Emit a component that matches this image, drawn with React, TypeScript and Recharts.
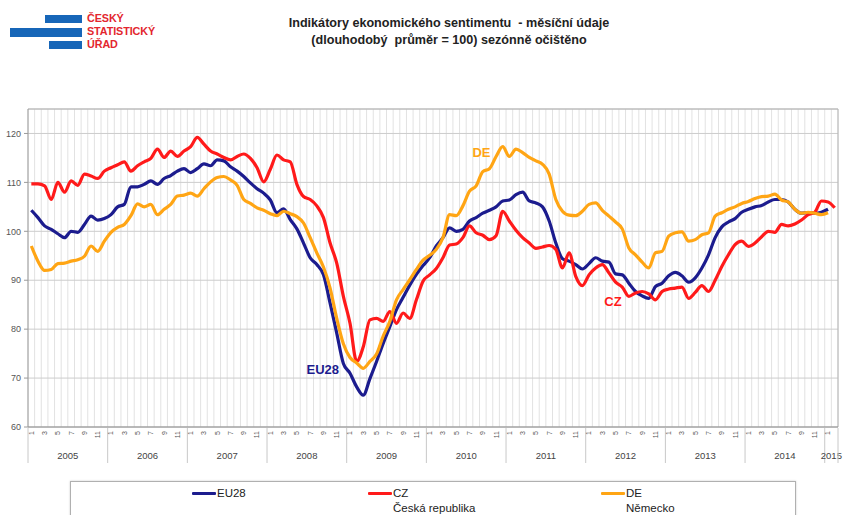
import React from 'react';
import { LineChart, Line, XAxis, YAxis, CartesianGrid, ReferenceLine, ReferenceDot } from 'recharts';

const years = [2005, 2006, 2007, 2008, 2009, 2010, 2011, 2012, 2013, 2014, 2015];
const months = [1, 2, 3, 4, 5, 6, 7, 8, 9, 10, 11, 12];
const monthCount = 122; // Jan 2005 – Feb 2015
const categories = years.flatMap((y) => months.map((m) => ({ year: y, month: m }))).slice(0, monthCount);

const eu28 = [
  104.3, 102.8, 101.1, 100.4, 99.5, 98.7, 100.0, 99.8, 101.4, 103.1, 102.3, 102.6,
  103.4, 105.0, 105.5, 109.1, 109.1, 109.6, 110.3, 109.6, 110.8, 111.4, 112.3, 112.8,
  112.0, 112.8, 113.8, 113.4, 114.6, 114.4, 113.2, 112.3, 111.2, 109.9, 108.7, 107.8,
  106.4, 103.8, 104.6, 102.4, 100.5, 97.6, 94.6, 93.2, 91.1, 85.3, 79.2, 73.0,
  71.0, 68.2, 66.5, 69.9, 73.4, 77.1, 80.5, 84.0, 86.5, 89.0, 91.2, 93.0,
  94.6, 97.0, 98.7, 100.7, 100.0, 100.4, 102.1, 102.8, 103.7, 104.3, 105.0, 106.2,
  106.4, 107.5, 108.0, 106.2, 105.8, 105.0, 102.1, 97.6, 94.4, 93.9, 93.2, 92.3,
  93.4, 94.6, 93.9, 93.7, 91.3, 91.1, 89.4, 87.7, 86.8, 86.3, 88.7, 89.4,
  90.9, 91.6, 90.9, 89.6, 90.5, 92.5, 95.2, 98.7, 100.9, 101.9, 102.6, 103.9,
  104.5, 105.0, 105.3, 106.0, 106.5, 106.5, 106.0, 104.5, 103.7, 103.8, 103.7, 103.9,
  104.5,
];

const cz = [
  109.7, 109.7, 109.3, 106.5, 110.0, 108.0, 110.3, 109.4, 111.7, 111.3, 110.8, 112.3,
  113.0, 113.6, 114.2, 112.3, 113.4, 114.2, 114.9, 116.8, 115.1, 116.4, 115.3, 116.4,
  117.3, 119.2, 117.8, 116.4, 115.8, 115.1, 114.6, 115.3, 115.8, 114.9, 113.0, 110.1,
  112.7, 115.6, 114.6, 114.2, 109.6, 107.1, 106.5, 105.2, 102.8, 97.6, 93.5, 86.7,
  81.2, 73.4, 76.4, 81.9, 82.2, 81.6, 83.6, 81.2, 83.3, 82.2, 86.0, 89.8,
  91.1, 92.4, 94.6, 97.2, 97.4, 98.7, 101.1, 99.7, 99.2, 98.3, 99.1, 104.1,
  102.1, 100.2, 98.7, 97.6, 96.5, 96.8, 97.1, 96.3, 92.5, 95.6, 90.8, 88.9,
  91.1, 92.5, 93.2, 91.5, 89.6, 88.6, 86.7, 87.4, 87.7, 87.2, 86.0, 87.7,
  88.2, 88.4, 88.6, 86.3, 87.5, 88.9, 87.7, 90.0, 92.8, 95.2, 97.3, 98.0,
  96.9, 97.6, 98.9, 100.0, 99.8, 101.4, 101.1, 101.5, 102.3, 103.4, 103.9, 106.2,
  106.0, 104.8,
];

const de = [
  97.0, 93.9, 92.0, 92.2, 93.4, 93.5, 93.9, 94.2, 94.9, 97.0, 95.9, 98.0,
  99.8, 100.8, 101.4, 103.2, 105.6, 105.0, 105.5, 103.4, 104.5, 105.5, 107.2, 107.4,
  107.8, 107.2, 108.7, 110.1, 111.0, 111.2, 110.5, 109.4, 106.5, 105.7, 104.8, 104.3,
  103.6, 103.2, 104.1, 103.6, 103.0, 101.7, 98.7, 95.6, 92.7, 88.4, 82.2, 77.0,
  74.2, 73.1, 72.0, 73.4, 74.9, 78.6, 81.6, 86.0, 88.1, 90.1, 92.2, 94.1,
  95.1, 96.3, 98.7, 103.4, 103.2, 105.2, 108.2, 109.3, 112.2, 112.8, 115.3, 117.3,
  115.3, 116.8, 116.1, 115.1, 114.4, 113.7, 111.7, 106.5, 104.1, 103.3, 103.2, 104.1,
  105.5, 105.8, 104.3, 103.1, 101.9, 100.5, 96.6, 95.2, 93.7, 92.5, 95.6, 95.9,
  99.0, 99.7, 99.9, 98.0, 98.3, 99.3, 99.7, 103.1, 103.8, 104.5, 105.0, 105.7,
  106.1, 106.7, 107.1, 107.2, 107.6, 106.4, 106.0, 104.5, 103.7, 103.9, 103.7, 103.4,
  103.8,
];

const yTicks = [60, 70, 80, 90, 100, 110, 120];
const yDomain = [60, 125];

const EU_COLOR = '#1c1c8e';
const CZ_COLOR = '#ff1a1a';
const DE_COLOR = '#ffa514';

const seriesLabels = [
  { text: 'DE', i: 67.8, v: 116.2, color: DE_COLOR },
  { text: 'CZ', i: 87.6, v: 85.6, color: CZ_COLOR },
  { text: 'EU28', i: 43.9, v: 71.8, color: EU_COLOR },
];

const legendItems = [
  { name: 'EU28', sub: '', color: EU_COLOR, left: 121 },
  { name: 'CZ', sub: 'Česká republika', color: CZ_COLOR, left: 297 },
  { name: 'DE', sub: 'Německo', color: DE_COLOR, left: 530 },
];

const data = categories.map((c, i) => ({ i, ...c, eu28: eu28[i], cz: cz[i], de: de[i] }));
const boundaries = Array.from({ length: monthCount + 1 }, (_, k) => k - 0.5);

const CHART_W = 843;
const CHART_H = 515;
const MARGIN = { top: 109, right: 5, bottom: 48, left: 8 };
const Y_AXIS_W = 20;
const PLOT_W = CHART_W - MARGIN.left - MARGIN.right - Y_AXIS_W;
const BAND = PLOT_W / monthCount;
const FONT = '"Liberation Sans", Arial, Helvetica, sans-serif';

function MonthTick(props: any) {
  const { x, y, payload } = props;
  const b = payload.value as number;
  const k = Math.round(b + 0.5);
  const base = y - 6;
  const parts: any[] = [];
  if (k % 12 === 0 || k === monthCount) {
    parts.push(<line key="sep" x1={x} x2={x} y1={base + 1} y2={base + 36} stroke="#c8c8c8" strokeWidth={1} />);
  }
  if (k < monthCount) {
    const cat = categories[k];
    const cx = x + BAND / 2;
    if (cat.month % 2 === 1) {
      parts.push(
        <text
          key="m"
          x={cx}
          y={base + 4}
          transform={`rotate(-90 ${cx} ${base + 4})`}
          textAnchor="end"
          dy="0.35em"
          fontSize={7}
          fill="#555"
          fontFamily={FONT}
        >
          {cat.month}
        </text>
      );
    }
    if (cat.month === 1) {
      const span = Math.min(12, monthCount - k);
      const yx = x + (span * BAND) / 2;
      parts.push(
        <text key="y" x={yx} y={base + 32} textAnchor="middle" fontSize={9.5} fill="#444" fontFamily={FONT}>
          {cat.year}
        </text>
      );
    }
  }
  return <g>{parts}</g>;
}

export default function App() {
  return (
    <div style={{ position: 'absolute', left: 0, top: 0, width: CHART_W, height: CHART_H, background: '#fff', overflow: 'hidden', fontFamily: FONT }}>
      {/* Logo */}
      <div style={{ position: 'absolute', left: 45, top: 15, width: 37, height: 8, background: '#1766b8' }} />
      <div style={{ position: 'absolute', left: 10, top: 28, width: 72, height: 9, background: '#1766b8' }} />
      <div style={{ position: 'absolute', left: 49, top: 41, width: 33, height: 8, background: '#1766b8' }} />
      <div style={{ position: 'absolute', left: 87, top: 12, color: '#e3262e', fontWeight: 'bold', fontSize: 10.8, lineHeight: '13px', letterSpacing: '-0.1px' }}>
        <div>ČESKÝ</div>
        <div>STATISTICKÝ</div>
        <div>ÚŘAD</div>
      </div>
      {/* Title */}
      <div style={{ position: 'absolute', left: 199, top: 15, width: 500, textAlign: 'center', fontWeight: 'bold', fontSize: 12.6, lineHeight: '17px', color: '#222' }}>
        <div>Indikátory ekonomického sentimentu&nbsp; - měsíční údaje</div>
        <div>(dlouhodobý&nbsp; průměr = 100) sezónně očištěno</div>
      </div>

      <div style={{ position: 'absolute', left: 0, top: 0 }}>
        <LineChart width={CHART_W} height={CHART_H} data={data} margin={MARGIN}>
          <CartesianGrid vertical horizontal={false} stroke="#e2e2e2" />
          <CartesianGrid horizontal vertical={false} stroke="#cccccc" />
          <XAxis
            type="number"
            dataKey="i"
            domain={[-0.5, monthCount - 0.5]}
            ticks={boundaries}
            interval={0}
            height={40}
            tickSize={4}
            tickMargin={2}
            tickLine={false}
            axisLine={{ stroke: '#8c8c8c' }}
            tick={(p: any) => <MonthTick {...p} />}
          />
          <YAxis
            type="number"
            domain={yDomain}
            ticks={yTicks}
            width={Y_AXIS_W}
            tickSize={4}
            tickMargin={3}
            axisLine={{ stroke: '#9a9a9a' }}
            tickLine={{ stroke: '#9a9a9a' }}
            tick={{ fontSize: 9, fill: '#555', fontFamily: FONT }}
          />
          <ReferenceLine y={125} stroke="#b4b4b4" />
          <ReferenceLine x={monthCount - 0.5} stroke="#b4b4b4" />
          <Line type="monotone" dataKey="eu28" stroke={EU_COLOR} strokeWidth={3.2} dot={false} isAnimationActive={false} />
          <Line type="monotone" dataKey="cz" stroke={CZ_COLOR} strokeWidth={3.2} dot={false} isAnimationActive={false} />
          <Line type="monotone" dataKey="de" stroke={DE_COLOR} strokeWidth={3.2} dot={false} isAnimationActive={false} />
          {seriesLabels.map((s) => (
            <ReferenceDot
              key={s.text}
              x={s.i}
              y={s.v}
              r={0}
              fill="none"
              stroke="none"
              label={{ value: s.text, position: 'center', fill: s.color, fontSize: 13, fontWeight: 'bold', fontFamily: FONT }}
            />
          ))}
        </LineChart>
      </div>

      {/* Legend */}
      <div style={{ position: 'absolute', left: 70, top: 481, width: 724, height: 50, border: '1px solid #b0b0b0', boxShadow: '0 0 2px #ccc', background: '#fff' }}>
        {legendItems.map((l) => (
          <div key={l.name} style={{ position: 'absolute', left: l.left, top: 4, fontSize: 11.5, color: '#222', lineHeight: '15px' }}>
            <div style={{ position: 'absolute', left: 0, top: 6, width: 24, height: 3, background: l.color, borderRadius: 1 }} />
            <div style={{ marginLeft: 25 }}>{l.name}</div>
            {l.sub ? <div style={{ marginLeft: 25 }}>{l.sub}</div> : null}
          </div>
        ))}
      </div>
    </div>
  );
}
